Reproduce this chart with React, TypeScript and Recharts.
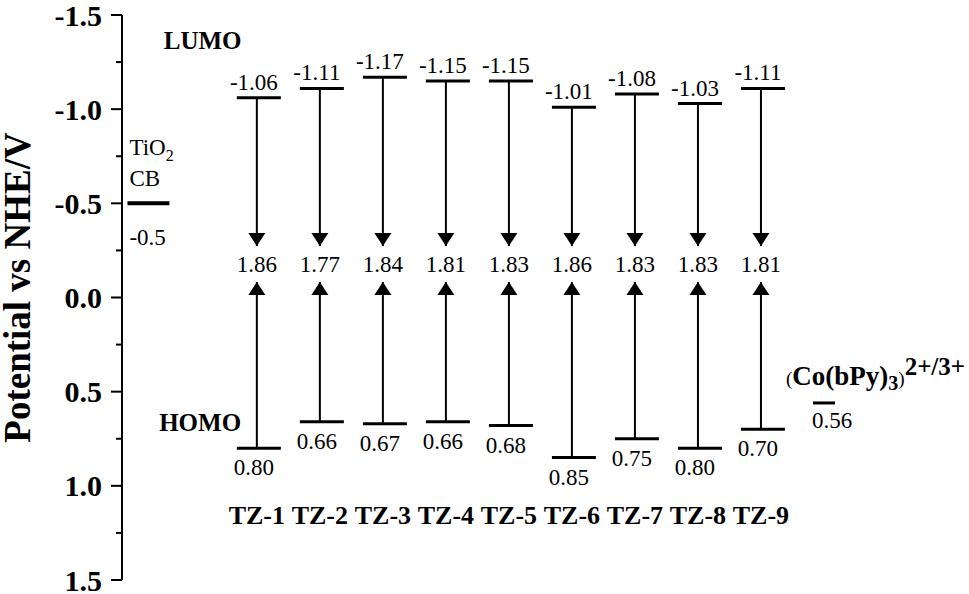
import React from 'react';
import { ComposedChart, XAxis, YAxis, Scatter, ReferenceLine, ReferenceDot } from 'recharts';

// ---------------------------------------------------------------------------
// Data
// ---------------------------------------------------------------------------

const categories = ['TZ-1', 'TZ-2', 'TZ-3', 'TZ-4', 'TZ-5', 'TZ-6', 'TZ-7', 'TZ-8', 'TZ-9'];
const lumo = [-1.06, -1.11, -1.17, -1.15, -1.15, -1.01, -1.08, -1.03, -1.11];
const homo = [0.8, 0.66, 0.67, 0.66, 0.68, 0.85, 0.75, 0.8, 0.7];
const gap = [1.86, 1.77, 1.84, 1.81, 1.83, 1.86, 1.83, 1.83, 1.81];
const yTicks = [-1.5, -1.25, -1, -0.75, -0.5, -0.25, 0, 0.25, 0.5, 0.75, 1, 1.25, 1.5];
const tio2Cb = -0.5;
const coRedox = 0.56;

// ---------------------------------------------------------------------------
// Layout constants (data units unless noted)
// ---------------------------------------------------------------------------

const SERIF = '"Liberation Serif", "Times New Roman", serif';
const DOWN_TIP = -0.273; // where LUMO arrows end
const UP_TIP = -0.082; // where HOMO arrows end
const GAP_LABEL_Y = -0.135;
const NAME_LABEL_Y = 1.2;
const TIO2_X = -0.72;
const CO_X = 10;
const TICK_SIZE = 11;
const TICK_MARGIN = 9;

const levelData = categories.map((name, i) => ({
  x: i + 1,
  name,
  lumo: lumo[i],
  homo: homo[i],
  gap: gap[i],
}));
const lumoPts = levelData.map((d) => ({ x: d.x, y: d.lumo }));
const homoPts = levelData.map((d) => ({ x: d.x, y: d.homo }));
const gapPts = levelData.map((d) => ({ x: d.x, y: GAP_LABEL_Y, label: d.gap.toFixed(2) }));
const namePts = levelData.map((d) => ({ x: d.x, y: NAME_LABEL_Y, label: d.name }));
const downTips = levelData.map((d) => ({ x: d.x, y: DOWN_TIP }));
const upTips = levelData.map((d) => ({ x: d.x, y: UP_TIP }));

// ---------------------------------------------------------------------------
// Shapes
// ---------------------------------------------------------------------------

const LumoShape = (p: any) => (
  <g>
    <line x1={p.cx - 20} x2={p.cx + 24} y1={p.cy} y2={p.cy} stroke="#000" strokeWidth={3} />
    <text x={p.cx - 3} y={p.cy - 8} textAnchor="middle" fontFamily={SERIF} fontSize={23} fill="#000">
      {p.payload.y.toFixed(2)}
    </text>
  </g>
);

const HomoShape = (p: any) => (
  <g>
    <line x1={p.cx - 20} x2={p.cx + 24} y1={p.cy} y2={p.cy} stroke="#000" strokeWidth={3} />
    <text x={p.cx - 3} y={p.cy + 27} textAnchor="middle" fontFamily={SERIF} fontSize={23} fill="#000">
      {p.payload.y.toFixed(2)}
    </text>
  </g>
);

const DownHead = (p: any) => (
  <path d={`M${p.cx},${p.cy} L${p.cx - 8.5},${p.cy - 13} L${p.cx + 8.5},${p.cy - 13} Z`} fill="#000" />
);

const UpHead = (p: any) => (
  <path d={`M${p.cx},${p.cy} L${p.cx - 8.5},${p.cy + 13} L${p.cx + 8.5},${p.cy + 13} Z`} fill="#000" />
);

const GapText = (p: any) => (
  <text x={p.cx} y={p.cy} textAnchor="middle" fontFamily={SERIF} fontSize={23} fill="#000">
    {p.payload.label}
  </text>
);

const NameText = (p: any) => (
  <text x={p.cx} y={p.cy} textAnchor="middle" fontFamily={SERIF} fontWeight="bold" fontSize={26} fill="#000">
    {p.payload.label}
  </text>
);

const Tio2Shape = (p: any) => (
  <g fontFamily={SERIF} fill="#000">
    <line x1={p.cx - 21} x2={p.cx + 21} y1={p.cy} y2={p.cy} stroke="#000" strokeWidth={4} />
    <text x={p.cx - 19} y={p.cy - 48} fontSize={23}>
      TiO<tspan fontSize={16} dy={6}>2</tspan>
    </text>
    <text x={p.cx - 19} y={p.cy - 17} fontSize={23}>CB</text>
    <text x={p.cx - 19} y={p.cy + 42} fontSize={23}>-0.5</text>
  </g>
);

const CoShape = (p: any) => (
  <g fontFamily={SERIF} fill="#000">
    <line x1={p.cx - 11} x2={p.cx + 11} y1={p.cy} y2={p.cy} stroke="#000" strokeWidth={3} />
    <text x={p.cx - 38} y={p.cy - 18}>
      <tspan fontSize={19}>(</tspan>
      <tspan fontSize={27} fontWeight="bold">Co(bPy)</tspan>
      <tspan fontSize={20} fontWeight="bold" dy={5}>3</tspan>
      <tspan fontSize={19} dy={-5}>)</tspan>
      <tspan fontSize={25} fontWeight="bold" dy={-10}>2+/3+</tspan>
    </text>
    <text x={p.cx - 12} y={p.cy + 25} fontSize={23}>
      {coRedox.toFixed(2)}
    </text>
  </g>
);

const TextAt = (label: string, bold: boolean, size: number) => (p: any) => (
  <text x={p.cx} y={p.cy} textAnchor="middle" fontFamily={SERIF} fontWeight={bold ? 'bold' : 'normal'} fontSize={size} fill="#000">
    {label}
  </text>
);

const YTick = (p: any) => {
  const v = p.payload.value as number;
  const major = Math.abs(v * 2 - Math.round(v * 2)) < 1e-6;
  const axisX = p.x + TICK_SIZE + TICK_MARGIN;
  return (
    <g>
      <line x1={axisX - (major ? TICK_SIZE : 6)} x2={axisX} y1={p.y} y2={p.y} stroke="#000" strokeWidth={2} />
      {major && (
        <text x={p.x} y={p.y} dy="0.35em" textAnchor="end" fontFamily={SERIF} fontWeight="bold" fontSize={30} fill="#000">
          {v.toFixed(1)}
        </text>
      )}
    </g>
  );
};

const YTitle = (p: any) => {
  const vb = p.viewBox;
  const cx = 30;
  const cy = vb.y + vb.height / 2 - 10;
  return (
    <text
      x={cx}
      y={cy}
      transform={`rotate(-90, ${cx}, ${cy})`}
      textAnchor="middle"
      fontFamily={SERIF}
      fontWeight="bold"
      fontSize={37}
      fill="#000"
    >
      Potential vs NHE/V
    </text>
  );
};

export default function App() {
  return (
    <div style={{ position: 'absolute', left: 0, top: 0, background: '#fff' }}>
      <ComposedChart width={969} height={594} margin={{ top: 15, right: 19, bottom: 14, left: 0 }}>
        <XAxis type="number" dataKey="x" domain={[-1.14, 12]} hide allowDataOverflow />
        <YAxis
          type="number"
          dataKey="y"
          domain={[-1.5, 1.5]}
          reversed
          ticks={yTicks}
          interval={0}
          width={122}
          tickSize={TICK_SIZE}
          tickMargin={TICK_MARGIN}
          tickLine={false}
          axisLine={{ stroke: '#000', strokeWidth: 2 }}
          tick={YTick}
          label={{ content: YTitle }}
          allowDataOverflow
        />

        {/* arrow shafts */}
        {levelData.map((d) => (
          <ReferenceLine
            key={`dn-${d.x}`}
            segment={[{ x: d.x, y: d.lumo }, { x: d.x, y: DOWN_TIP }]}
            stroke="#000"
            strokeWidth={2}
          />
        ))}
        {levelData.map((d) => (
          <ReferenceLine
            key={`up-${d.x}`}
            segment={[{ x: d.x, y: d.homo }, { x: d.x, y: UP_TIP }]}
            stroke="#000"
            strokeWidth={2}
          />
        ))}

        <Scatter data={lumoPts} shape={LumoShape} isAnimationActive={false} />
        <Scatter data={homoPts} shape={HomoShape} isAnimationActive={false} />
        <Scatter data={downTips} shape={DownHead} isAnimationActive={false} />
        <Scatter data={upTips} shape={UpHead} isAnimationActive={false} />
        <Scatter data={gapPts} shape={GapText} isAnimationActive={false} />
        <Scatter data={namePts} shape={NameText} isAnimationActive={false} />

        <ReferenceDot x={TIO2_X} y={tio2Cb} r={0} shape={Tio2Shape} />
        <ReferenceDot x={CO_X} y={coRedox} r={0} shape={CoShape} />
        <ReferenceDot x={0.14} y={-1.32} r={0} shape={TextAt('LUMO', true, 25)} />
        <ReferenceDot x={0.1} y={0.71} r={0} shape={TextAt('HOMO', true, 25)} />
      </ComposedChart>
    </div>
  );
}
